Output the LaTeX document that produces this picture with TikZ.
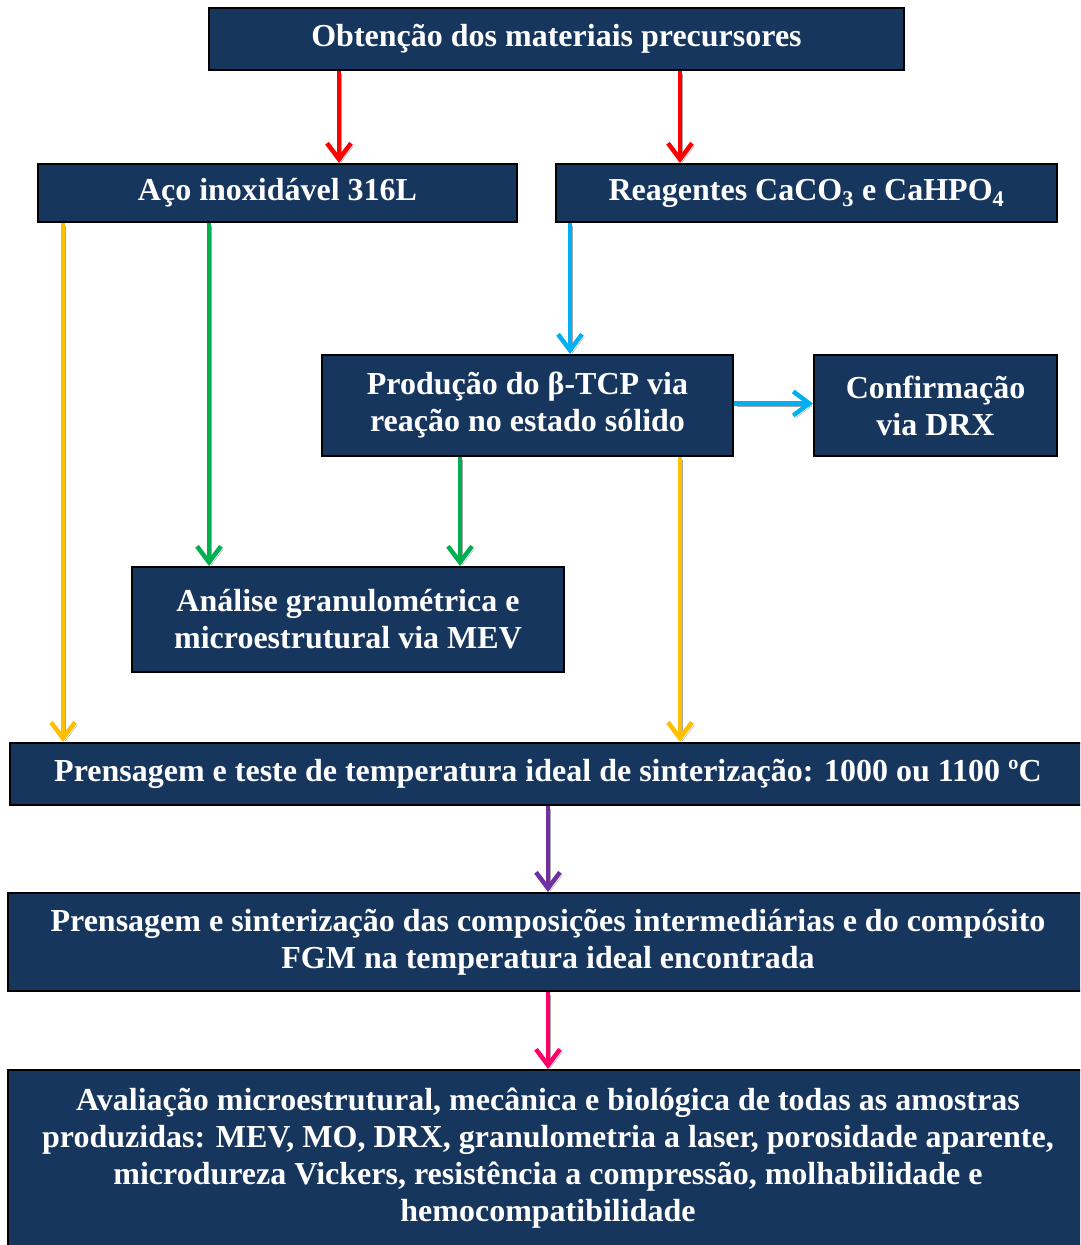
\documentclass[tikz,border=0pt]{standalone}
\usepackage{fontspec}
\setmainfont{Liberation Serif}
\usetikzlibrary{arrows.meta,positioning}
\definecolor{navy}{HTML}{17365D}
\definecolor{cred}{HTML}{FF0000}
\definecolor{cyellow}{HTML}{FFC000}
\definecolor{cgreen}{HTML}{00B050}
\definecolor{cblue}{HTML}{00B0F0}
\definecolor{cpurple}{HTML}{7030A0}
\definecolor{cpink}{HTML}{FF0066}

\begin{document}
\begin{tikzpicture}[
  x=1pt, y=-1pt,
  box/.style={draw=black, line width=2pt, fill=navy, text=white, inner sep=0pt, align=center,
    font=\bfseries\fontsize{32}{37}\selectfont},
  arr/.style={line width=4.5pt, -{Straight Barb[length=16pt,width=24pt]},
    preaction={draw=gray!70, transform canvas={xshift=2.5pt,yshift=-2.5pt}}}
]
\useasboundingbox (0,0) rectangle (1080,1245);
\clip (0,0) rectangle (1080,1245);

\node[box, minimum width=695pt, minimum height=62pt] (obt) at (556.5,39) {Obtenção dos materiais precursores};
\node[box, minimum width=479pt, minimum height=58pt] (aco) at (277.5,193) {Aço inoxidável 316L};
\node[box, minimum width=501pt, minimum height=58pt] (reag) at (806.5,193) {Reagentes CaCO\textsubscript{3} e CaHPO\textsubscript{4}};
\node[box, minimum width=411pt, minimum height=101pt] (tcp) at (527.5,405.5) {Produção do β-TCP via\\reação no estado sólido};
\node[box, minimum width=243pt, minimum height=101pt] (drx) at (935.5,405.5) {Confirmação\\via DRX};
\node[box, minimum width=432pt, minimum height=105pt] (mev) at (348,619.5) {Análise granulométrica e\\microestrutural via MEV};
\node[box, minimum width=1076pt, minimum height=62pt] (teste) at (548,774) {Prensagem e teste de temperatura ideal de sinterização: 1000 ou 1100 ºC};
\node[box, minimum width=1080pt, minimum height=98pt] (sint) at (548,942) {Prensagem e sinterização das composições intermediárias e do compósito\\FGM na temperatura ideal encontrada};
\node[box, minimum width=1080pt, minimum height=190pt] (aval) at (548,1165) {};
\node[text=white, inner sep=0pt, align=center, font=\bfseries\fontsize{32}{37}\selectfont] (avaltxt) at (548,1158)
  {Avaliação microestrutural, mecânica e biológica de todas as amostras\\produzidas: MEV, MO, DRX, granulometria a laser, porosidade aparente,\\microdureza Vickers, resistência a compressão, molhabilidade e\\hemocompatibilidade};

% red
\draw[arr, cred] ([xshift=-217.5pt]obt.south) -- ([xshift=-217.5pt]obt.south |- aco.north);
\draw[arr, cred] ([xshift=123.5pt]obt.south) -- ([xshift=123.5pt]obt.south |- reag.north);
% yellow
\draw[arr, cyellow] ([xshift=-214.5pt]aco.south) -- ([xshift=-214.5pt]aco.south |- teste.north);
\draw[arr, cyellow] ([xshift=152.5pt]tcp.south) -- ([xshift=152.5pt]tcp.south |- teste.north);
% green
\draw[arr, cgreen] ([xshift=-68.5pt]aco.south) -- ([xshift=-68.5pt]aco.south |- mev.north);
\draw[arr, cgreen] ([xshift=-67.5pt]tcp.south) -- ([xshift=-67.5pt]tcp.south |- mev.north);
% blue
\draw[arr, cblue] ([yshift=2pt]tcp.east) -- ([yshift=2pt]tcp.east -| drx.west);
\draw[arr, cblue] ([xshift=-236.5pt]reag.south) -- ([xshift=-236.5pt]reag.south |- tcp.north);
% purple, pink
\draw[arr, cpurple] (teste.south) -- (sint.north);
\draw[arr, cpink] (sint.south) -- (aval.north);
\end{tikzpicture}
\end{document}
